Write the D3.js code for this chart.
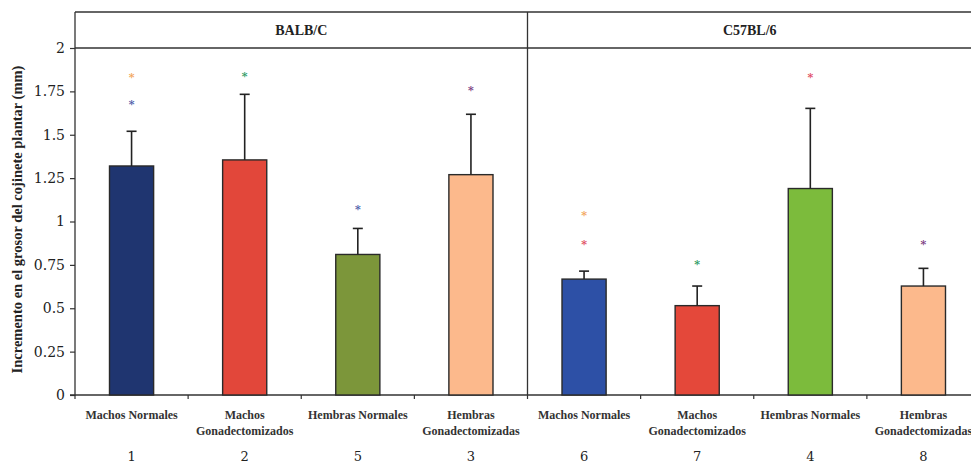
<!DOCTYPE html>
<html>
<head>
<meta charset="utf-8">
<script src="https://cdn.jsdelivr.net/npm/d3@7"></script>
<style>
  html, body { margin: 0; padding: 0; background: #fff; }
  svg { display: block; }
</style>
</head>
<body>
<svg id="chart" width="971" height="466"></svg>
<script>
// Footpad swelling increment (mm), two mouse strains
const strains = ["BALB/C", "C57BL/6"];
const groupLabels = [
  ["Machos Normales"], ["Machos", "Gonadectomizados"], ["Hembras Normales"], ["Hembras", "Gonadectomizadas"],
  ["Machos Normales"], ["Machos", "Gonadectomizados"], ["Hembras Normales"], ["Hembras", "Gonadectomizadas"]
];
const groupNumbers = ["1", "2", "5", "3", "6", "7", "4", "8"];
const means = [1.32, 1.355, 0.81, 1.27, 0.668, 0.515, 1.19, 0.628];
const errTops = [1.52, 1.733, 0.96, 1.618, 0.714, 0.628, 1.652, 0.73];
const barColors = ["#1f3570", "#e2473a", "#7c963a", "#fcb98c", "#2d50a6", "#e4483a", "#7cbb3c", "#fcb98c"];
// significance asterisks: [bar index, y value, colour]
const marks = [
  [0, 1.845, "#f2a55a"], [0, 1.69, "#4a5aa8"],
  [1, 1.85, "#2a9a62"],
  [2, 1.085, "#4a5aa8"],
  [3, 1.768, "#7a3a80"],
  [4, 1.047, "#f2a55a"], [4, 0.884, "#e04a60"],
  [5, 0.768, "#2a9a62"],
  [6, 1.844, "#e04a60"],
  [7, 0.88, "#7a3a80"]
];
const yTicks = [0, 0.25, 0.5, 0.75, 1, 1.25, 1.5, 1.75, 2];

const svg = d3.select("#chart");
const plotLeft = 75, plotRight = 980, plotTop = 12, plotBase = 395;

const x = d3.scaleBand()
  .domain(d3.range(means.length))
  .range([plotLeft, plotRight])
  .paddingInner(0.61)
  .paddingOuter(0.305);
const step = x.step();

const y = d3.scaleLinear().domain([0, 2]).range([plotBase, 48]);

const serif = "'DejaVu Serif', serif";
const serifB = "'Liberation Serif', serif";

// frame: top edge, line at 2, divider between strains
svg.append("line").attr("x1", plotLeft).attr("x2", 971).attr("y1", plotTop).attr("y2", plotTop)
  .attr("stroke", "#333").attr("stroke-width", 1.3);
svg.append("line").attr("x1", plotLeft).attr("x2", 971).attr("y1", y(2)).attr("y2", y(2))
  .attr("stroke", "#333").attr("stroke-width", 1.3);
const divX = x(4) - (step - x.bandwidth()) / 2;
svg.append("line").attr("x1", divX).attr("x2", divX).attr("y1", plotTop).attr("y2", plotBase)
  .attr("stroke", "#333").attr("stroke-width", 1.3);

// strain headers
svg.selectAll("text.strain").data(strains).join("text")
  .attr("class", "strain")
  .attr("x", (d, i) => i === 0 ? (plotLeft + divX) / 2 : (divX + plotRight) / 2 - 4)
  .attr("y", 35)
  .attr("text-anchor", "middle")
  .attr("font-family", serifB).attr("font-weight", "bold").attr("font-size", 14)
  .attr("fill", "#222")
  .text(d => d);

// y axis
const yAxis = svg.append("g").attr("transform", `translate(${plotLeft},0)`)
  .call(d3.axisLeft(y).tickValues(yTicks).tickFormat(d3.format("")).tickSize(5).tickPadding(5));
yAxis.select(".domain").attr("stroke", "#333").attr("stroke-width", 1.3).attr("d", `M-5,${plotBase}H0V${plotTop}`);
yAxis.selectAll(".tick line").attr("stroke", "#333").attr("stroke-width", 1.2);
yAxis.selectAll(".tick text").attr("font-family", serif).attr("font-size", 14).attr("fill", "#222");

svg.append("text")
  .attr("transform", `translate(22,${(plotBase + 48) / 2 - 2}) rotate(-90)`)
  .attr("text-anchor", "middle")
  .attr("font-family", serifB).attr("font-weight", "bold").attr("font-size", 14.5)
  .attr("fill", "#222")
  .text("Incremento en el grosor del cojinete plantar (mm)");

// x axis line with ticks at group boundaries
const bounds = d3.range(means.length + 1).map(i => plotLeft + i * step);
svg.append("line").attr("x1", plotLeft).attr("x2", 971).attr("y1", plotBase).attr("y2", plotBase)
  .attr("stroke", "#333").attr("stroke-width", 1.3);
svg.selectAll("line.xtick").data(bounds).join("line")
  .attr("class", "xtick")
  .attr("x1", d => d).attr("x2", d => d).attr("y1", plotBase).attr("y2", plotBase + 4)
  .attr("stroke", "#333").attr("stroke-width", 1.2);

// bars
svg.selectAll("rect.bar").data(means).join("rect")
  .attr("class", "bar")
  .attr("x", (d, i) => x(i))
  .attr("y", d => y(d))
  .attr("width", x.bandwidth())
  .attr("height", d => y(0) - y(d))
  .attr("fill", (d, i) => barColors[i])
  .attr("stroke", "#2a2a2a").attr("stroke-width", 1.4);

// error bars (upper only)
const cx = i => x(i) + x.bandwidth() / 2;
svg.selectAll("line.err").data(errTops).join("line")
  .attr("class", "err")
  .attr("x1", (d, i) => cx(i)).attr("x2", (d, i) => cx(i))
  .attr("y1", (d, i) => y(means[i])).attr("y2", d => y(d))
  .attr("stroke", "#222").attr("stroke-width", 1.6);
svg.selectAll("line.cap").data(errTops).join("line")
  .attr("class", "cap")
  .attr("x1", (d, i) => cx(i) - 5).attr("x2", (d, i) => cx(i) + 5)
  .attr("y1", d => y(d)).attr("y2", d => y(d))
  .attr("stroke", "#222").attr("stroke-width", 1.6);

// asterisks
svg.selectAll("text.mark").data(marks).join("text")
  .attr("class", "mark")
  .attr("x", d => cx(d[0]))
  .attr("y", d => y(d[1]) + 6)
  .attr("text-anchor", "middle")
  .attr("font-family", serif).attr("font-size", 11).attr("font-weight", "bold")
  .attr("fill", d => d[2])
  .text("*");

// group labels
const lab = svg.selectAll("g.lab").data(groupLabels).join("g")
  .attr("class", "lab")
  .attr("transform", (d, i) => `translate(${cx(i)},0)`);
lab.each(function(lines) {
  const g = d3.select(this);
  lines.forEach((t, k) => {
    g.append("text").attr("x", 0).attr("y", 419 + k * 16)
      .attr("text-anchor", "middle")
      .attr("font-family", serifB).attr("font-size", 12).attr("font-weight", "bold")
      .attr("fill", "#333")
      .text(t);
  });
});
svg.selectAll("text.num").data(groupNumbers).join("text")
  .attr("class", "num")
  .attr("x", (d, i) => cx(i))
  .attr("y", 461)
  .attr("text-anchor", "middle")
  .attr("font-family", serif).attr("font-size", 13)
  .attr("fill", "#222")
  .text(d => d);
</script>
</body>
</html>
